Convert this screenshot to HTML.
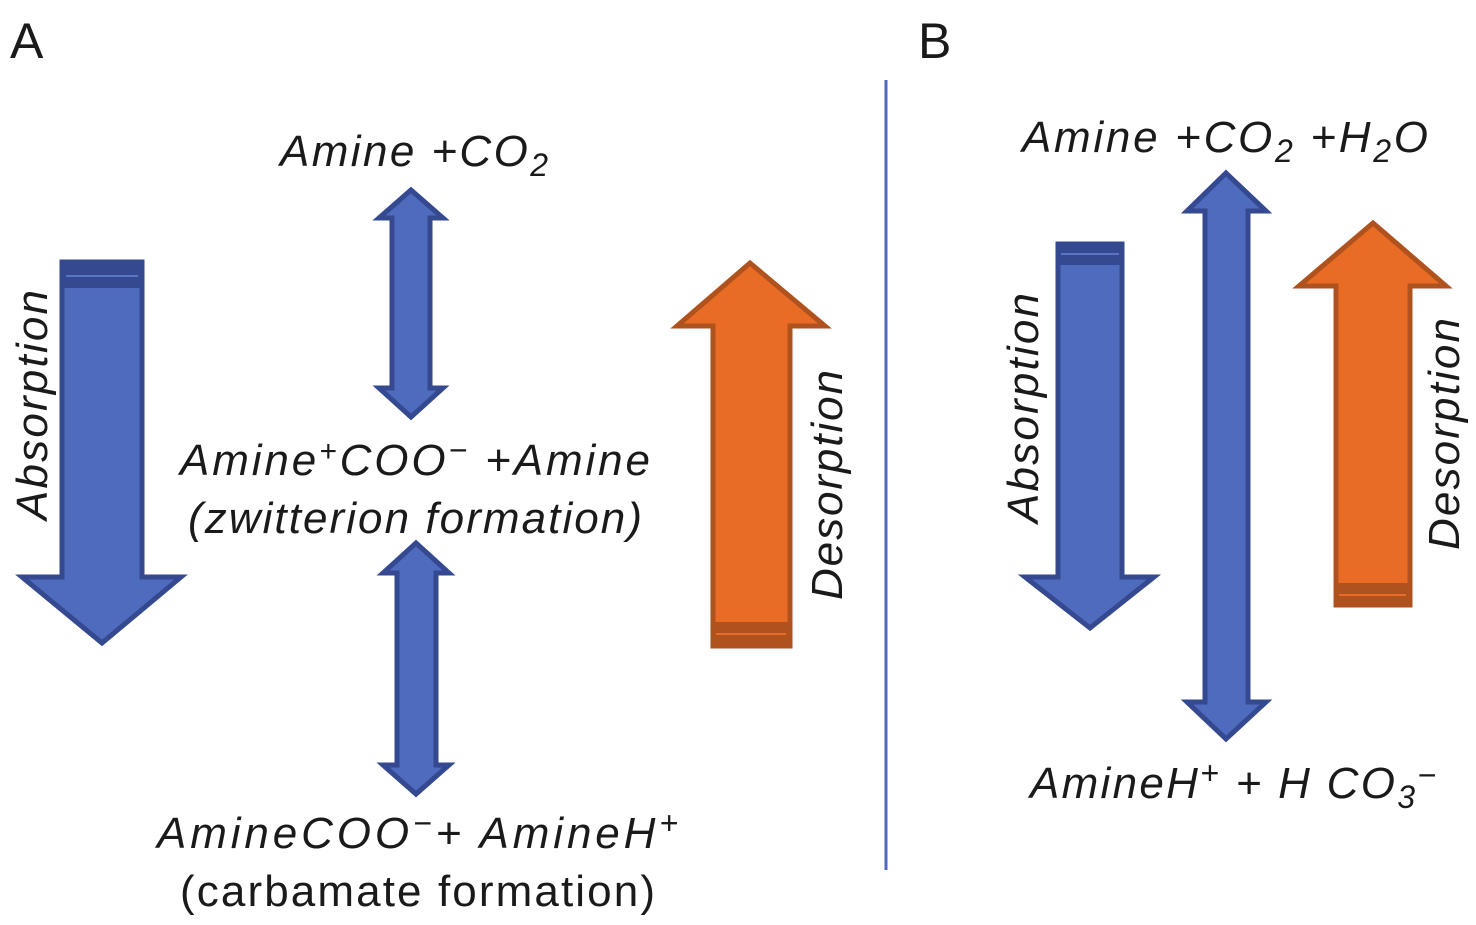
<!DOCTYPE html>
<html><head><meta charset="utf-8"><style>
html,body{margin:0;padding:0;background:#fff;}
svg{display:block;}
text{font-family:"Liberation Sans",Arial,sans-serif;fill:#1a1a1a;}
.i{font-style:italic;font-size:44px;}
</style></head><body>
<svg width="1476" height="925" viewBox="0 0 1476 925" xmlns="http://www.w3.org/2000/svg">
<g stroke-width="5" stroke-linejoin="miter">
<polygon points="62,262 142,262 142,577 181,577 102,643 22,577 62,577" fill="#4F6BBE" stroke="#34498F"/>
<rect x="62" y="262" width="80" height="26" fill="#34498F" stroke="none"/>
<line x1="66" y1="276" x2="138" y2="276" stroke="#5A75C4" stroke-width="2"/>
<polygon points="411,190 443,218 430,218 430,388 443,388 411,417 379,388 392,388 392,218 379,218" fill="#4F6BBE" stroke="#34498F"/>
<polygon points="416,543 449,573 436,573 436,765 449,765 416,794 383,765 397,765 397,573 383,573" fill="#4F6BBE" stroke="#34498F"/>
<polygon points="750,263 825,326 790,326 790,646 713,646 713,326 677,326" fill="#E86C25" stroke="#B0521D"/>
<rect x="713" y="622" width="77" height="24" fill="#B0521D" stroke="none"/>
<line x1="716" y1="634" x2="786" y2="634" stroke="#E86C25" stroke-width="2"/>
<polygon points="1058,244 1122,244 1122,577 1154,577 1090,628 1025,577 1058,577" fill="#4F6BBE" stroke="#34498F"/>
<rect x="1058" y="244" width="64" height="21" fill="#34498F" stroke="none"/>
<line x1="1061" y1="254" x2="1119" y2="254" stroke="#5A75C4" stroke-width="2"/>
<polygon points="1226,173 1266,211 1248,211 1248,702 1266,702 1226,739 1187,702 1205,702 1205,211 1187,211" fill="#4F6BBE" stroke="#34498F"/>
<polygon points="1373,223 1446,286 1410,286 1410,605 1336,605 1336,286 1299,286" fill="#E86C25" stroke="#B0521D"/>
<rect x="1336" y="583" width="74" height="22" fill="#B0521D" stroke="none"/>
<line x1="1339" y1="595" x2="1406" y2="595" stroke="#E86C25" stroke-width="2"/>
</g>
<line x1="886" y1="80" x2="886" y2="870" stroke="#4F6BBE" stroke-width="3"/>

<text x="10" y="58" font-size="50">A</text>
<text x="918" y="58" font-size="50">B</text>

<text class="i" x="280" y="166" textLength="268" lengthAdjust="spacing">Amine +CO<tspan font-size="32" dy="10">2</tspan></text>
<text class="i" x="180" y="475" textLength="470" lengthAdjust="spacing">Amine<tspan font-size="30" dy="-14">+</tspan><tspan dy="14">COO</tspan><tspan font-size="32" dy="-14">−</tspan><tspan dy="14"> +Amine</tspan></text>
<text class="i" x="188" y="533" textLength="454" lengthAdjust="spacing">(zwitterion formation)</text>
<text class="i" x="157" y="848" textLength="521" lengthAdjust="spacing">AmineCOO<tspan font-size="32" dy="-14">−</tspan><tspan dy="14">+ AmineH</tspan><tspan font-size="32" dy="-14">+</tspan></text>
<text x="180" y="906" font-size="44" textLength="475" lengthAdjust="spacing">(carbamate formation)</text>

<text class="i" x="1022" y="152" textLength="406" lengthAdjust="spacing">Amine +CO<tspan font-size="32" dy="10">2</tspan><tspan dy="-10"> +H</tspan><tspan font-size="32" dy="10">2</tspan><tspan dy="-10">O</tspan></text>
<text class="i" x="1030" y="798" textLength="406" lengthAdjust="spacing">AmineH<tspan font-size="32" dy="-14">+</tspan><tspan dy="14"> + H CO</tspan><tspan font-size="32" dy="10">3</tspan><tspan font-size="32" dy="-22">−</tspan></text>

<text class="i" text-anchor="middle" textLength="230" lengthAdjust="spacing" transform="translate(47,405) rotate(-90)">Absorption</text>
<text class="i" text-anchor="middle" textLength="230" lengthAdjust="spacing" transform="translate(842,485) rotate(-90)">Desorption</text>
<text class="i" text-anchor="middle" textLength="230" lengthAdjust="spacing" transform="translate(1038,408) rotate(-90)">Absorption</text>
<text class="i" text-anchor="middle" textLength="232" lengthAdjust="spacing" transform="translate(1459,434) rotate(-90)">Desorption</text>
</svg>
</body></html>
